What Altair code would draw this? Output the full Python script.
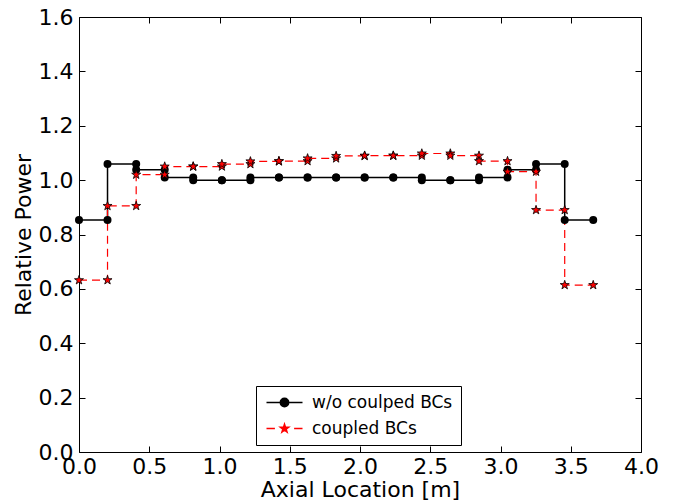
import math
import altair as alt
import pandas as pd

# ---- data ----
edges = [0.0, 0.203, 0.407, 0.610, 0.813, 1.017, 1.220, 1.423, 1.627, 1.830,
         2.033, 2.237, 2.440, 2.643, 2.847, 3.050, 3.253, 3.457, 3.660]
wo_coupled = [0.853, 1.059, 1.038, 1.010, 1.000, 1.000, 1.010, 1.010, 1.010,
              1.010, 1.010, 1.010, 1.000, 1.000, 1.010, 1.038, 1.059, 0.853]
coupled = [0.632, 0.905, 1.020, 1.050, 1.050, 1.059, 1.069, 1.070, 1.080,
           1.089, 1.090, 1.090, 1.098, 1.090, 1.070, 1.031, 0.890, 0.614]
series_names = ["w/o coulped BCs", "coupled BCs"]
x_ticks = [0.0, 0.5, 1.0, 1.5, 2.0, 2.5, 3.0, 3.5, 4.0]
y_ticks = [0.0, 0.2, 0.4, 0.6, 0.8, 1.0, 1.2, 1.4, 1.6]


def steps(values, name):
    rows = []
    for i, v in enumerate(values):
        rows.append({"x": edges[i], "y": v, "i": 2 * i, "series": name})
        rows.append({"x": edges[i + 1], "y": v, "i": 2 * i + 1, "series": name})
    return pd.DataFrame(rows)


black_df = steps(wo_coupled, series_names[0])
red_df = steps(coupled, series_names[1])
legend_df = pd.DataFrame({"series": series_names})

FONT = "DejaVu Sans"
FS = 22

xs = alt.Scale(domain=[0, 4], nice=False, zero=False)
ys = alt.Scale(domain=[0, 1.6], nice=False, zero=False)


def star_path(cx, cy, ro, ri):
    pts = []
    for k in range(10):
        r = ro if k % 2 == 0 else ri
        a = -math.pi / 2 + k * math.pi / 5
        pts.append(f"{cx + r * math.cos(a):.3f},{cy + r * math.sin(a):.3f}")
    return "M" + "L".join(pts) + "Z"


STAR = star_path(0, 0, 1, 0.39)
black_sym = "M-1,0H5M2.7,0A0.7,0.7,0,1,1,1.3,0A0.7,0.7,0,1,1,2.7,0Z"
red_sym = "M-1,0H0.4M3.6,0H5" + star_path(2, 0, 0.72, 0.28)

label_axis_x = alt.Axis(orient="bottom", values=x_ticks, format=".1f", grid=False,
                        ticks=False, domain=False, labelFlush=False, labelOverlap=False,
                        labelFont=FONT, labelFontSize=FS, labelColor="black", labelPadding=4,
                        title="Axial Location [m]", titleFont=FONT, titleFontSize=FS,
                        titleFontWeight="normal", titleColor="black", titlePadding=2)
label_axis_y = alt.Axis(orient="left", values=y_ticks, format=".1f", grid=False,
                        ticks=False, domain=False, labelFlush=False, labelOverlap=False,
                        labelFont=FONT, labelFontSize=FS, labelColor="black", labelPadding=6,
                        title="Relative Power", titleFont=FONT, titleFontSize=FS,
                        titleFontWeight="normal", titleColor="black", titlePadding=3)


def tick_axis(orient, vals):
    return alt.Axis(orient=orient, values=vals, labels=False, domain=False, grid=False,
                    ticks=True, tickSize=6, tickColor="black", tickWidth=1, offset=-6,
                    title=None)


black_line = alt.Chart(black_df).mark_line(color="black", strokeWidth=1.5).encode(
    x=alt.X("x:Q", scale=xs, axis=label_axis_x),
    y=alt.Y("y:Q", scale=ys, axis=label_axis_y),
    order=alt.Order("i:Q"),
)
black_pts = alt.Chart(black_df).mark_circle(size=64, color="black", opacity=1).encode(
    x=alt.X("x:Q", scale=xs, axis=tick_axis("bottom", x_ticks)),
    y=alt.Y("y:Q", scale=ys, axis=tick_axis("left", y_ticks)),
)
red_line = alt.Chart(red_df).mark_line(color="red", strokeWidth=1.2, strokeDash=[8, 5]).encode(
    x=alt.X("x:Q", scale=xs, axis=tick_axis("top", x_ticks)),
    y=alt.Y("y:Q", scale=ys, axis=tick_axis("right", y_ticks)),
    order=alt.Order("i:Q"),
)
red_pts = alt.Chart(red_df).mark_point(shape=STAR, size=90, strokeWidth=0.8, opacity=1).encode(
    x=alt.X("x:Q", scale=xs, axis=None),
    y=alt.Y("y:Q", scale=ys, axis=None),
    fill=alt.value("red"),
    stroke=alt.value("black"),
)

legend_layer = alt.Chart(legend_df).mark_point(opacity=1, filled=True).transform_filter(
    "false"
).encode(
    shape=alt.Shape("series:N", scale=alt.Scale(domain=series_names, range=[black_sym, red_sym]),
                    legend=alt.Legend(title=None, orient="none", legendX=177, legendY=369,
                                      strokeColor="black", fillColor="white", padding=8,
                                      cornerRadius=0, labelFont=FONT, labelFontSize=17,
                                      labelColor="black", symbolSize=144,
                                      symbolStrokeWidth=1.5, symbolOpacity=1,
                                      labelOffset=31, rowPadding=8)),
    fill=alt.Fill("series:N", scale=alt.Scale(domain=series_names, range=["black", "red"])),
    stroke=alt.Stroke("series:N", scale=alt.Scale(domain=series_names, range=["black", "red"])),
)

chart = alt.layer(black_line, red_line, black_pts, red_pts, legend_layer).resolve_axis(
    x="independent", y="independent"
).properties(
    width=562, height=435,
    autosize=alt.AutoSizeParams(type="none"),
    padding={"left": 71, "top": 9, "right": 24, "bottom": 50},
    background="white",
).configure_view(stroke="black", strokeWidth=1)

chart.save("out.html", embed_options={"renderer": "svg", "actions": False})
